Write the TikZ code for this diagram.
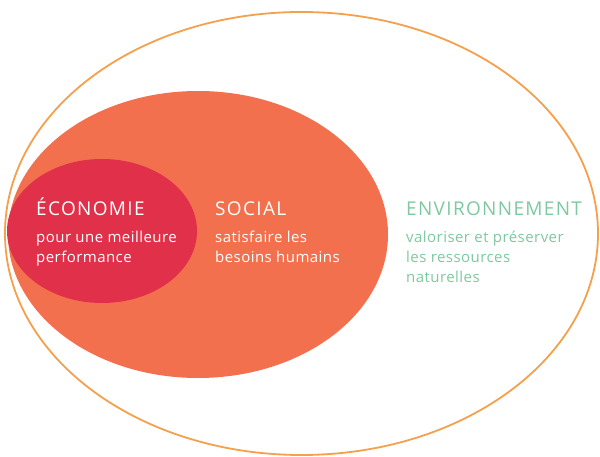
\documentclass[tikz,border=0pt]{standalone}
\usepackage{fontspec}
\setmainfont{Open Sans}
\newfontfamily\headfont[LetterSpace=7]{Open Sans}
\newfontfamily\descfont[LetterSpace=3]{Open Sans}
\usepackage{xcolor}
\usetikzlibrary{positioning,calc}

\definecolor{envorange}{HTML}{F5A04C}
\definecolor{socorange}{HTML}{F2704E}
\definecolor{ecored}{HTML}{E0304A}
\definecolor{envgreen}{HTML}{7DC9A0}

\tikzset{
    heading/.style={anchor=base west, inner sep=0pt, font=\headfont\fontsize{19}{22}\selectfont},
    desc/.style={anchor=north west, inner sep=0pt, align=left, font=\descfont\fontsize{15}{20}\selectfont}
}

\begin{document}
\begin{tikzpicture}[x=1pt, y=-1pt]
    \useasboundingbox (0,0) rectangle (600,457);

    % Environment
    \draw[envorange, line width=1.8pt] (301.5,233.5) ellipse [x radius=296.5, y radius=221.5];
    % Social
    \fill[socorange] (198,234.5) ellipse [x radius=190, y radius=143.5];
    % Economy
    \fill[ecored] (102,231) ellipse [x radius=95, y radius=72];

    % Labels
    \node[heading, white] (ecohead) at (36,216) {ÉCONOMIE};
    \node[desc, white, below=15pt of ecohead.base west, anchor=north west] (ecotext) {pour une meilleure\\performance};

    \node[heading, white] (sochead) at (215,216) {SOCIAL};
    \node[desc, white, below=15pt of sochead.base west, anchor=north west] (soctext) {satisfaire les\\besoins humains};

    \node[heading, envgreen] (envhead) at (406,216) {ENVIRONNEMENT};
    \node[desc, envgreen, below=15pt of envhead.base west, anchor=north west] (envtext) {valoriser et préserver\\les ressources\\naturelles};
\end{tikzpicture}
\end{document}
